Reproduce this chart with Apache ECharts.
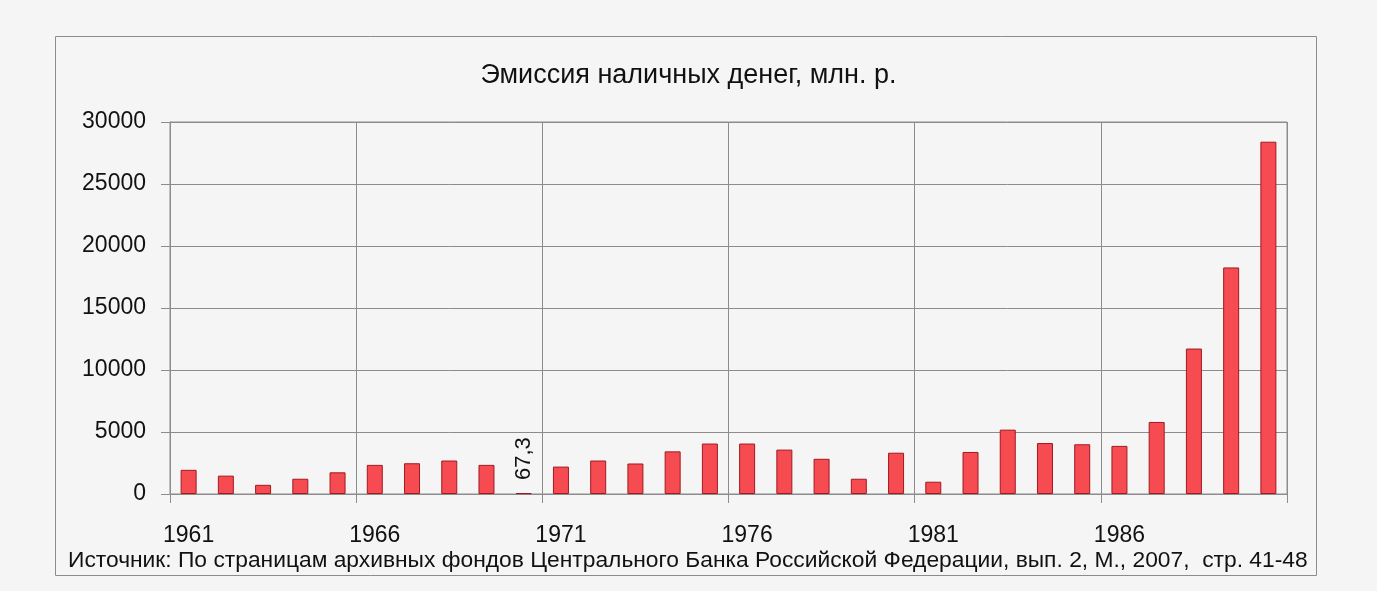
<!DOCTYPE html>
<html>
<head>
<meta charset="utf-8">
<script src="https://cdn.jsdelivr.net/npm/echarts@6/dist/echarts.min.js"></script>
<style>
html,body{margin:0;padding:0;background:#f5f5f5;}
#c{width:1377px;height:591px;}
</style>
</head>
<body>
<div id="c"></div>
<script>
const years = ['1961','1962','1963','1964','1965','1966','1967','1968','1969','1970',
  '1971','1972','1973','1974','1975','1976','1977','1978','1979','1980',
  '1981','1982','1983','1984','1985','1986','1987','1988','1989','1990'];
const emission = [1950,1480,740,1230,1750,2350,2480,2700,2350,67.3,
  2210,2700,2460,3440,4070,4070,3580,2840,1230,3330,
  990,3390,5190,4110,4010,3880,5810,11730,18270,28410];
const yTicks = {min:0, max:30000, step:5000};
const titleText = 'Эмиссия наличных денег, млн. р.';
const sourceText = 'Источник: По страницам архивных фондов Центрального Банка Российской Федерации, вып. 2, М., 2007,  стр. 41-48';
const labelledYear = '1970';
const labelledText = '67,3';

const FONT = '"Liberation Sans", Arial, sans-serif';
const GRID = '#8c8c8c';

const barData = emission.map((v, i) => {
  if (years[i] === labelledYear) {
    return {
      value: v,
      label: {
        show: true, position: 'top', distance: 13, rotate: 90,
        align: 'left', verticalAlign: 'middle',
        formatter: labelledText, fontSize: 22, color: '#111', fontFamily: FONT
      }
    };
  }
  return v;
});

const chart = echarts.init(document.getElementById('c'), null, {renderer: 'canvas'});
chart.setOption({
  backgroundColor: '#f5f5f5',
  animation: false,
  title: {
    text: titleText, left: 'center', top: 57,
    textStyle: {fontSize: 27, fontWeight: 'normal', color: '#111', fontFamily: FONT}
  },
  graphic: [
    {type: 'rect', shape: {x: 55.5, y: 36.5, width: 1261, height: 539},
     style: {fill: 'none', stroke: GRID, lineWidth: 1}, silent: true},
    {type: 'text', x: 68, y: 561,
     style: {text: sourceText, fontSize: 22.8, fill: '#111', fontFamily: FONT,
             textVerticalAlign: 'middle', verticalAlign: 'middle'}}
  ],
  grid: {left: 170, right: 90, top: 122, bottom: 97, show: true,
         borderColor: GRID, borderWidth: 1, backgroundColor: 'transparent'},
  xAxis: {
    type: 'category', data: years, boundaryGap: true,
    axisLine: {lineStyle: {color: GRID}},
    axisTick: {show: true, interval: 4, length: 9, inside: false, lineStyle: {color: GRID}},
    axisLabel: {interval: 4, fontSize: 23, color: '#111', fontFamily: FONT, margin: 30},
    splitLine: {show: true, interval: 4, lineStyle: {color: GRID, width: 1}}
  },
  yAxis: {
    type: 'value', min: yTicks.min, max: yTicks.max, interval: yTicks.step,
    axisLine: {show: true, lineStyle: {color: GRID}},
    axisTick: {show: true, length: 9, lineStyle: {color: GRID}},
    axisLabel: {fontSize: 23, color: '#111', fontFamily: FONT, margin: 24,
                formatter: v => String(v)},
    splitLine: {show: true, lineStyle: {color: GRID, width: 1}}
  },
  series: [{
    type: 'bar', data: barData, barWidth: 16,
    itemStyle: {color: '#f64b51', borderColor: '#a11a20', borderWidth: 1}
  }]
});
</script>
</body>
</html>
